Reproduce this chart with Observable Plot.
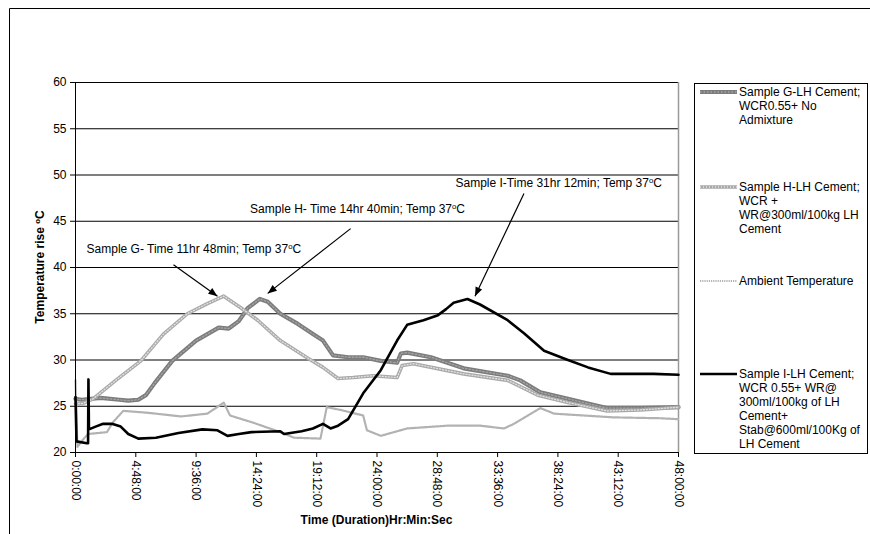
<!DOCTYPE html>
<html>
<head>
<meta charset="utf-8">
<script src="https://cdn.jsdelivr.net/npm/d3@7"></script>
<script src="https://cdn.jsdelivr.net/npm/@observablehq/plot@0.6"></script>
<style>
  html, body { margin: 0; padding: 0; background: #fff; }
  #chart { width: 870px; height: 534px; overflow: hidden; }
</style>
</head>
<body>
<div id="chart"></div>
<script>
// Axis ticks (hours since start) and their printed labels
const xTickHours = [0, 4.8, 9.6, 14.4, 19.2, 24, 28.8, 33.6, 38.4, 43.2, 48];
const xTickLabels = ["0:00:00", "4:48:00", "9:36:00", "14:24:00", "19:12:00", "24:00:00",
                     "28:48:00", "33:36:00", "38:24:00", "43:12:00", "48:00:00"];
const yTicks = [20, 25, 30, 35, 40, 45, 50, 55, 60];

// Temperature records: [hours, °C]
const sampleG = [
  [0, 25.8], [0.5, 25.7], [2.0, 25.9], [3.5, 25.7], [4.2, 25.6], [5.0, 25.7], [5.6, 26.2],
  [6.3, 27.5], [7.7, 29.9], [9.6, 32.1], [11.4, 33.5], [12.2, 33.4], [13.0, 34.2], [13.7, 35.6],
  [14.67, 36.6], [15.3, 36.3], [16.3, 35.0], [17.7, 33.9], [18.9, 32.8], [19.7, 32.1], [20.5, 30.5],
  [21.7, 30.3], [22.9, 30.3], [24.3, 29.9], [25.6, 29.7], [25.9, 30.7], [26.4, 30.8], [28.3, 30.3],
  [30.9, 29.1], [34.4, 28.3], [35.4, 27.8], [37.0, 26.5], [39.2, 25.8], [42.3, 24.8], [45.0, 24.8],
  [48, 24.9]
];
const sampleH = [
  [0, 25.3], [0.6, 25.3], [1.4, 25.8], [3.2, 27.8], [5.2, 29.9], [7.0, 32.8], [8.9, 35.0],
  [10.5, 36.1], [11.8, 36.9], [13.1, 35.7], [14.5, 34.3], [16.3, 32.1], [18.5, 30.2], [19.7, 29.2],
  [20.9, 28.0], [22.1, 28.1], [23.7, 28.3], [25.6, 28.1], [26.0, 29.4], [26.9, 29.6], [30.9, 28.5],
  [34.4, 27.8], [36.8, 26.2], [39.2, 25.4], [42.3, 24.5], [45.0, 24.6], [48, 24.9]
];
const ambient = [
  [0, 27.8], [0.15, 20.6], [0.6, 21.4], [1.0, 22.0], [2.5, 22.2], [3.0, 23.3], [3.8, 24.5],
  [5.7, 24.3], [8.4, 23.9], [10.5, 24.2], [11.8, 25.4], [12.3, 24.0], [14.2, 23.2], [16.3, 22.2],
  [17.4, 21.6], [19.5, 21.5], [20.0, 24.9], [21.1, 24.6], [22.9, 24.0], [23.2, 22.4], [24.3, 21.8],
  [26.4, 22.6], [29.6, 22.9], [32.2, 22.9], [34.1, 22.6], [34.9, 23.1], [37.0, 24.8], [38.1, 24.2],
  [42.8, 23.8], [46.6, 23.7], [48, 23.6]
];
const sampleI = [
  [0, 26.0], [0.08, 21.2], [0.9, 21.0], [1.0, 21.0], [1.03, 27.9], [1.07, 22.5], [1.6, 22.8],
  [2.2, 23.1], [2.9, 23.1], [3.6, 22.8], [4.2, 22.0], [5.0, 21.5], [6.4, 21.6], [8.2, 22.1],
  [10.1, 22.5], [11.3, 22.4], [12.1, 21.8], [13.0, 22.0], [14.0, 22.2], [16.3, 22.3], [16.6, 22.0],
  [18.0, 22.3], [18.9, 22.6], [19.7, 23.1], [20.3, 22.6], [20.9, 22.9], [21.7, 23.6], [22.9, 26.4],
  [24.3, 28.9], [25.6, 32.1], [26.4, 33.8], [27.7, 34.3], [28.8, 34.8], [29.5, 35.5], [30.1, 36.2],
  [31.2, 36.6], [32.2, 36.0], [34.4, 34.3], [35.7, 32.9], [37.3, 31.0], [39.2, 30.0], [40.8, 29.2],
  [42.6, 28.5], [46.0, 28.5], [48, 28.4]
];

const legendLabels = [
  ["Sample G-LH Cement;", "WCR0.55+ No", "Admixture"],
  ["Sample H-LH Cement;", "WCR +", "WR@300ml/100kg LH", "Cement"],
  ["Ambient Temperature"],
  ["Sample I-LH Cement;", "WCR 0.55+ WR@", "300ml/100kg of LH", "Cement+", "Stab@600ml/100Kg of", "LH Cement"]
];

// Peak call-outs: label, label anchor, arrow tail and arrow tip (hours, °C)
const callouts = [
  {label: "Sample G- Time 11hr 48min; Temp 37°C", tx: 0.88, ty: 41.95, x1: 7.8, y1: 40.3, x2: 11.3, y2: 36.9},
  {label: "Sample H- Time 14hr 40min; Temp 37°C", tx: 13.9, ty: 46.27, x1: 21.9, y1: 44.2, x2: 15.3, y2: 37.2},
  {label: "Sample I-Time 31hr 12min; Temp 37°C", tx: 30.25, ty: 49.1, x1: 35.7, y1: 48.0, x2: 31.8, y2: 36.9}
];

const W = 870, H = 534;
const M = {left: 75, right: 192, top: 82, bottom: 82};
const FONT = "Arial, 'Liberation Sans', Helvetica, sans-serif";

// Stroke layers per series (base stroke + optional speckle overlay)
const styles = [
  [{stroke: "#7c7c7c", strokeWidth: 4.2}, {stroke: "#a4a4a4", strokeWidth: 1.3, strokeDasharray: "1.5 2"}],
  [{stroke: "#a9a9a9", strokeWidth: 3.6}, {stroke: "#e2e2e2", strokeWidth: 1.3, strokeDasharray: "1 2"}],
  [{stroke: "#b2b2b2", strokeWidth: 2.2, strokeDasharray: "1.2 1"}],
  [{stroke: "#000000", strokeWidth: 2.6}]
];
const seriesData = [sampleG, sampleH, ambient, sampleI];

// Pixel mapping mirroring the plot's scales, used to orient arrowheads
const px = d3.scaleLinear([0, 48], [M.left, W - M.right]);
const py = d3.scaleLinear([20, 60], [H - M.bottom, M.top]);
callouts.forEach(c => {
  const dx = px(c.x2) - px(c.x1), dy = py(c.y2) - py(c.y1);
  c.angle = Math.atan2(dx, -dy) * 180 / Math.PI;
});
// Narrow filled arrowhead with its tip at the origin, pointing up
const arrowHead = {draw(ctx) { ctx.moveTo(0, 0); ctx.lineTo(-3.6, 9); ctx.lineTo(3.6, 9); ctx.closePath(); }};

const lineMarks = [];
seriesData.forEach((data, i) => {
  styles[i].forEach(s => lineMarks.push(Plot.line(data, {x: d => d[0], y: d => d[1], ...s, strokeLinejoin: "round"})));
});

const chart = Plot.plot({
  width: W, height: H,
  marginLeft: M.left, marginRight: M.right, marginTop: M.top, marginBottom: M.bottom,
  style: {fontFamily: FONT, fontSize: "12px", background: "#fff", color: "#000", overflow: "visible"},
  x: {domain: [0, 48]},
  y: {domain: [20, 60]},
  marks: [
    Plot.ruleY(yTicks.filter(d => d > 20), {stroke: "#000", strokeWidth: 1}),
    Plot.ruleX([48], {stroke: "#9a9a9a", strokeWidth: 1.5}),
    ...lineMarks,
    Plot.ruleX([0], {stroke: "#000"}),
    Plot.ruleY([20], {stroke: "#000"}),
    Plot.axisY(yTicks, {tickSize: 5, tickPadding: 4, label: null, fontSize: 12}),
    Plot.axisX(xTickHours, {tickSize: 5, tickPadding: 3, tickRotate: 90, label: null, fontSize: 12,
      tickFormat: d => xTickLabels[xTickHours.indexOf(d)]}),
    Plot.link(callouts, {x1: "x1", y1: "y1", x2: "x2", y2: "y2", stroke: "#000", strokeWidth: 1.2}),
    Plot.dot(callouts, {x: "x2", y: "y2", symbol: arrowHead, r: 4, rotate: "angle", fill: "#000", stroke: "none"}),
    Plot.text(callouts, {x: "tx", y: "ty", text: "label", textAnchor: "start", fontSize: 12})
  ]
});

document.getElementById("chart").appendChild(chart);
const svg = d3.select(chart);

// Render "°C" with a raised small "o"
function supDegree(sel) {
  sel.each(function() {
    const t = d3.select(this);
    const s = t.text();
    if (!s.includes("°")) return;
    const [a, b] = s.split("°");
    t.text(null);
    t.append("tspan").text(a);
    t.append("tspan").attr("font-size", "0.65em").attr("dy", "-0.5em").text("o");
    t.append("tspan").attr("dy", "0.33em").text(b);
  });
}
supDegree(svg.selectAll("text"));

// Chart-area border
svg.append("path").attr("d", `M9.5,${H + 5}V8.5H${W + 5}`).attr("fill", "none").attr("stroke", "#000");

// Axis titles
const yTitle = svg.append("text")
  .attr("transform", `translate(40,${(M.top + H - M.bottom) / 2}) rotate(-90)`)
  .attr("text-anchor", "middle").attr("dy", "0.35em")
  .attr("font-weight", "bold").attr("font-size", 12).text("Temperature rise °C");
supDegree(yTitle);
svg.append("text")
  .attr("x", (M.left + W - M.right) / 2).attr("y", 520)
  .attr("text-anchor", "middle").attr("dy", "0.35em")
  .attr("font-weight", "bold").attr("font-size", 12).text("Time (Duration)Hr:Min:Sec");

// Legend
const legend = svg.append("g").attr("font-size", 12).attr("text-anchor", "start");
legend.append("rect").attr("x", 694.5).attr("y", 83.5).attr("width", 173).attr("height", 370)
  .attr("fill", "#fff").attr("stroke", "#000");
const keyY = [92, 187, 281, 374];
legendLabels.forEach((lines, i) => {
  styles[i].forEach(s => legend.append("line")
    .attr("x1", 700).attr("x2", 737).attr("y1", keyY[i]).attr("y2", keyY[i])
    .attr("stroke", s.stroke).attr("stroke-width", s.strokeWidth)
    .attr("stroke-dasharray", s.strokeDasharray || null));
  lines.forEach((ln, j) => legend.append("text")
    .attr("x", 739).attr("y", keyY[i] + j * 14).attr("dy", "0.35em")
    .attr("text-anchor", "start").text(ln));
});
</script>
</body>
</html>
